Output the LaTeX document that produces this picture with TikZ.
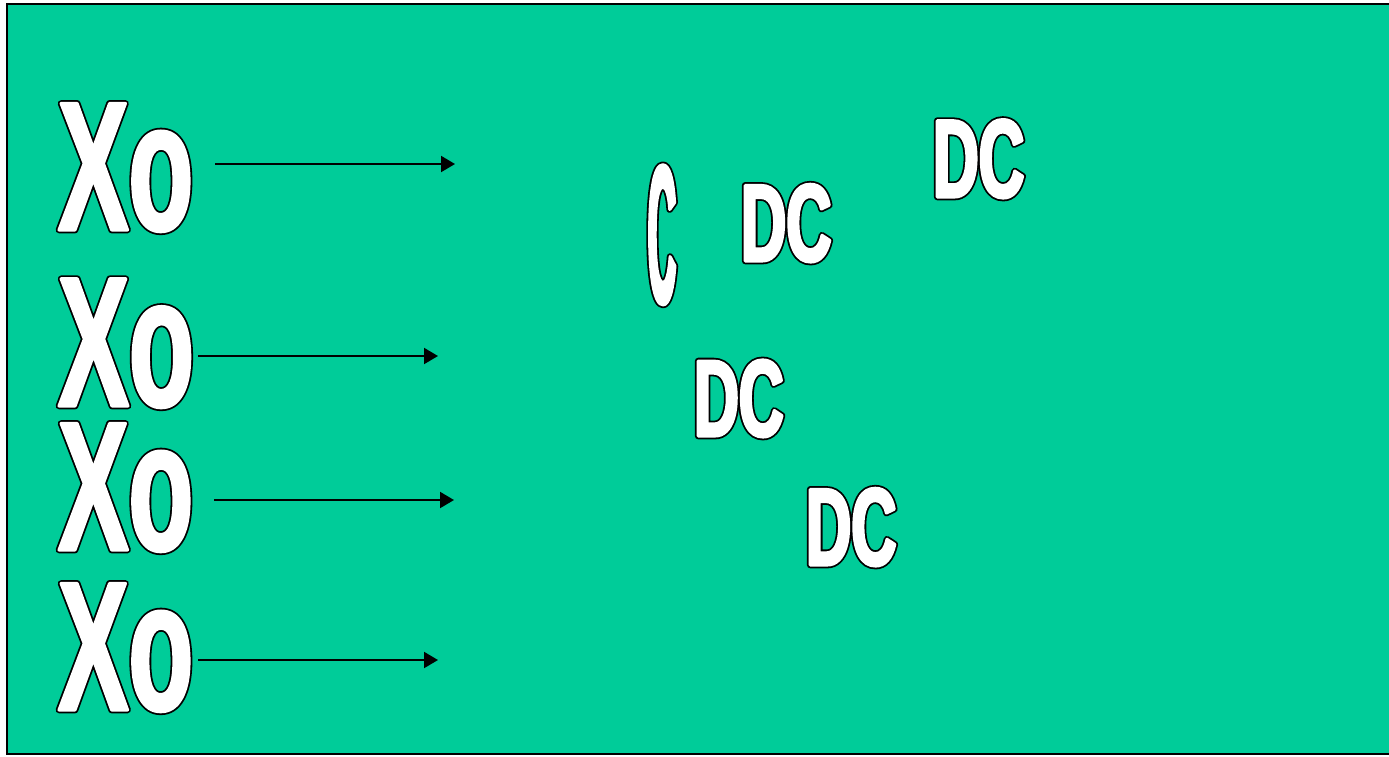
\documentclass[tikz,border=0pt]{standalone}
\usepackage{fontspec}
\usetikzlibrary{arrows.meta}
\newfontfamily\xofont[FakeStretch=0.575]{Liberation Sans Bold}
\newfontfamily\dcfont[FakeStretch=0.57]{Liberation Sans Bold}
\newfontfamily\cfont[FakeStretch=0.196]{Liberation Sans Bold}
\definecolor{bgteal}{RGB}{0,204,153}
% white letters, slightly emboldened, with a thin black outline
\newcommand{\outlinedtext}[1]{\special{x:gsave}\rlap{\special{pdf:literal direct 0 g 0 G 2 Tr 1 j 6.6 w}#1}\special{pdf:literal direct 1 g 1 G 2 Tr 1 j 3 w}#1\special{x:grestore}}
\tikzset{
  word/.style={anchor=base west, inner sep=0pt, outer sep=0pt},
  flow/.style={line width=2pt, -{Triangle[length=14pt,width=16pt]}},
}
\begin{document}
\begin{tikzpicture}[x=1pt,y=-1pt]
\useasboundingbox (0,0) rectangle (1389,756);
\fill[white] (0,0) rectangle (1389,756);
\fill[bgteal] (7,4) rectangle (1389,754);
\draw[line width=2pt] (1389,4) -- (7,4) -- (7,754) -- (1389,754);
% Xo labels
\node[word, font=\fontsize{184}{184}\xofont] (xo1) at (58,230) {\outlinedtext{Xo}};
\node[word, font=\fontsize{185}{185}\xofont] (xo2) at (58,406) {\outlinedtext{Xo}};
\node[word, font=\fontsize{184}{184}\xofont] (xo3) at (58,550) {\outlinedtext{Xo}};
\node[word, font=\fontsize{184}{184}\xofont] (xo4) at (58,710) {\outlinedtext{Xo}};
% arrows
\coordinate (a1s) at (215,164); \coordinate (a1e) at (455,164);
\coordinate (a2s) at (198,356); \coordinate (a2e) at (438,356);
\coordinate (a3s) at (214,500); \coordinate (a3e) at (454,500);
\coordinate (a4s) at (198,660); \coordinate (a4e) at (438,660);
\draw[flow] (a1s) -- (a1e);
\draw[flow] (a2s) -- (a2e);
\draw[flow] (a3s) -- (a3e);
\draw[flow] (a4s) -- (a4e);
% C and DC
\node[word, font=\fontsize{198}{198}\cfont] (c) at (648,303) {\outlinedtext{C}};
\node[word, font=\fontsize{110}{110}\dcfont] (dc1) at (741,261) {\outlinedtext{DC}};
\node[word, font=\fontsize{111}{111}\dcfont] (dc2) at (933,197) {\outlinedtext{DC}};
\node[word, font=\fontsize{109}{109}\dcfont] (dc3) at (694,436) {\outlinedtext{DC}};
\node[word, font=\fontsize{110}{110}\dcfont] (dc4) at (806,565) {\outlinedtext{DC}};
\end{tikzpicture}
\end{document}
